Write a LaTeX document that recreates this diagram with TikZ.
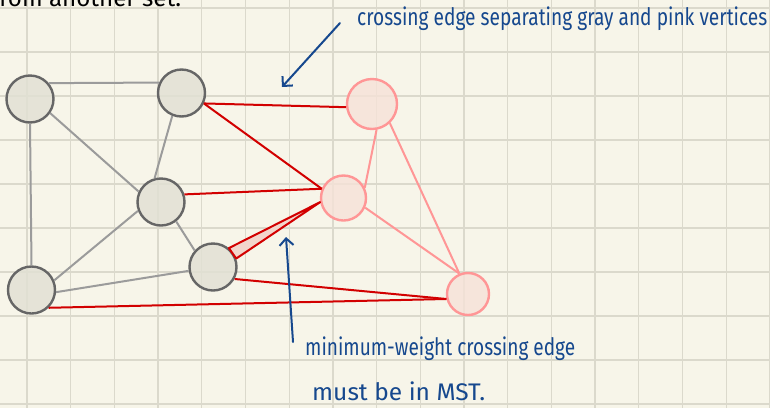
\documentclass[tikz,border=0pt]{standalone}
\usepackage{fontspec}
\setmainfont{Fira Sans}
\usetikzlibrary{arrows.meta}
\definecolor{paper}{RGB}{247,245,233}
\definecolor{gridc}{RGB}{219,217,204}
\definecolor{grayfill}{RGB}{226,225,212}
\definecolor{graydraw}{RGB}{102,102,102}
\definecolor{grayedge}{RGB}{155,155,155}
\definecolor{pinkfill}{RGB}{246,226,216}
\definecolor{pinkdraw}{RGB}{255,150,150}
\definecolor{cutred}{RGB}{210,0,0}
\definecolor{wedgefill}{RGB}{242,214,204}
\definecolor{inkblue}{RGB}{22,72,142}
\tikzset{
  gridline/.style={draw=gridc, line width=1.3pt},
  grayv/.style={circle, draw=graydraw, line width=2.4pt, fill=grayfill, fill opacity=0.85, text opacity=1, minimum size=47pt, inner sep=0pt},
  pinkv/.style={circle, draw=pinkdraw, line width=2.4pt, fill=pinkfill, fill opacity=0.8, text opacity=1, inner sep=0pt},
  grayline/.style={draw=grayedge, line width=2pt},
  pinkline/.style={draw=pinkdraw, line width=2pt},
  crossline/.style={draw=cutred, line width=2pt},
  note/.style={text=inkblue, font=\fontsize{24}{26}\selectfont, inner sep=0pt, anchor=base west},
  notearrow/.style={draw=inkblue, line width=2pt, line cap=round, -{Straight Barb[length=7pt,width=14pt,line width=2pt]}},
}
\begin{document}
\begin{tikzpicture}[x=1pt, y=-1pt]
  \useasboundingbox (0,0) rectangle (770,408);
  \fill[paper] (0,0) rectangle (770,408);
  \clip (0,0) rectangle (770,408);

  % squared paper
  \foreach \i in {0,...,17} \draw[gridline] ({27+43.7*\i},0) -- ({27+43.7*\i},408);
  \foreach \j in {0,...,9} \draw[gridline] (0,{8+44*\j}) -- (770,{8+44*\j});

  % heading left over from the previous line
  \node[anchor=base west, inner sep=0pt, font=\fontsize{24}{26}\selectfont] (prev) at (-9,6) {\resizebox{190pt}{\height}{from another set:}};

  % vertices
  \node[grayv] (A) at (30,99) {};
  \node[grayv] (B) at (181.5,93) {};
  \node[grayv] (C) at (161,202) {};
  \node[grayv] (D) at (213,267) {};
  \node[grayv] (E) at (31.5,290) {};
  \node[pinkv, minimum size=50pt] (F) at (372,104) {};
  \node[pinkv, minimum size=45pt] (G) at (343.5,198) {};
  \node[pinkv, minimum size=42pt] (H) at (468,294) {};

  % edges inside the gray set
  \draw[grayline] (A.40) -- (B.155);
  \draw[grayline] (A.-35) -- (C.155);
  \draw[grayline] (A.south) -- (E.north);
  \draw[grayline] (B.-112) -- (C.105);
  \draw[grayline] (C.-52) -- (D.138);
  \draw[grayline] (C.201) -- (E.23);
  \draw[grayline] (D.189) -- (E.-5);

  % edges inside the pink set
  \draw[pinkline] (F.-80) -- (G.26);
  \draw[pinkline] (F.-47) -- (H.113);
  \draw[pinkline] (G.-24) -- (H.113);

  % crossing edges
  \draw[crossline] (B.-25) -- (F.187);
  \draw[crossline] (B.-25) -- (G.157);
  \draw[crossline] (C.18) -- (G.157);
  \draw[crossline] (D.-29) -- (H.193);
  \draw[crossline] (E.-46) -- (H.193);
  % the lightest crossing edge, highlighted
  \filldraw[crossline, fill=wedgefill, line join=round] (D.50) -- (G.190) -- (D.20) -- cycle;

  % annotations
  \node[note] (top) at (357,25) {\resizebox{410pt}{\height}{crossing edge separating gray and pink vertices}};
  \coordinate (t1) at (340,23);
  \coordinate (t2) at (282,87);
  \draw[notearrow] (t1) -- (t2);

  \node[note] (low1) at (305,355) {\resizebox{270pt}{\height}{minimum-weight crossing edge}};
  \node[note] (low2) at (312,400) {\resizebox{173pt}{\height}{must be in MST.}};
  \coordinate (b1) at (293,342);
  \coordinate (b2) at (286,237);
  \draw[notearrow] (b1) -- (b2);
\end{tikzpicture}
\end{document}
